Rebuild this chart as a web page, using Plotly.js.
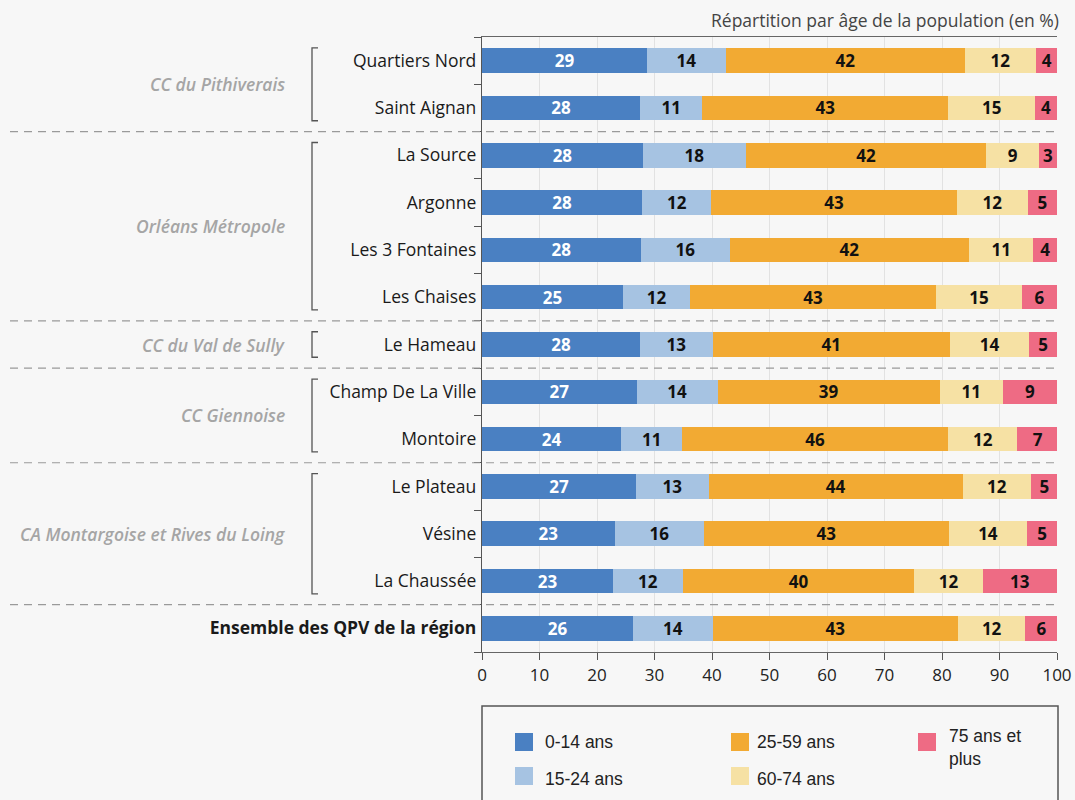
<!DOCTYPE html>
<html>
<head>
<meta charset="utf-8">
<script src="https://cdn.plot.ly/plotly-3.0.1.min.js"></script>
<style>
  html, body { margin: 0; padding: 0; background: #f7f7f7; }
  #chart { width: 1075px; height: 800px; }
</style>
</head>
<body>
<div id="chart"></div>
<script>
// ---- Data ----
var quartiers = ["Quartiers Nord", "Saint Aignan", "La Source", "Argonne", "Les 3 Fontaines",
  "Les Chaises", "Le Hameau", "Champ De La Ville", "Montoire", "Le Plateau", "Vésine",
  "La Chaussée", "Ensemble des QPV de la région"];
var ageGroups = ["0-14 ans", "15-24 ans", "25-59 ans", "60-74 ans", "75 ans et plus"];
var age0_14  = [28.7, 27.5, 28.0, 27.9, 27.6, 24.5, 27.5, 26.9, 24.2, 26.8, 23.1, 22.8, 26.3];
var age15_24 = [13.7, 10.8, 17.9, 12.0, 15.5, 11.7, 12.6, 14.1, 10.6, 12.6, 15.5, 12.1, 13.8];
var age25_59 = [41.6, 42.8, 41.8, 42.7, 41.6, 42.8, 41.3, 38.6, 46.3, 44.2, 42.6, 40.3, 42.7];
var age60_74 = [12.3, 15.1, 9.2, 12.3, 11.2, 14.9, 13.8, 11.0, 12.0, 11.9, 13.6, 11.9, 11.7];
var age75p   = [3.8, 3.8, 3.1, 5.1, 4.1, 6.1, 4.8, 9.4, 7.1, 4.6, 5.2, 12.9, 5.6];
var groupNames = ["CC du Pithiverais", "Orléans Métropole", "CC du Val de Sully", "CC Giennoise",
  "CA Montargoise et Rives du Loing"];
var groupFirst = [0, 2, 6, 7, 9];
var groupLast  = [1, 5, 6, 8, 11];
var xTicks = [0, 10, 20, 30, 40, 50, 60, 70, 80, 90, 100];
var chartTitle = "Répartition par âge de la population (en %)";

// ---- Styles ----
var colors = ["#4a80c2", "#a6c3e2", "#f2aa33", "#f6e1a4", "#ee6b84"];
var textColors = ["#ffffff", "#111111", "#111111", "#111111", "#111111"];
var series = [age0_14, age15_24, age25_59, age60_74, age75p];

var tickText = quartiers.map(function (q, i) {
  return i === quartiers.length - 1 ? "<b>" + q + "</b>" : q;
});

var traces = series.map(function (vals, k) {
  return {
    type: "bar",
    orientation: "h",
    name: ageGroups[k],
    y: quartiers,
    x: vals,
    text: vals.map(function (v) { return String(Math.round(v)); }),
    textposition: "inside",
    insidetextanchor: "middle",
    textangle: 0,
    constraintext: "none",
    textfont: { family: "Open Sans", size: 17, color: textColors[k], weight: 700 },
    marker: { color: colors[k], line: { width: 0 } },
    hoverinfo: "x+name",
    showlegend: false
  };
});

// pixel -> paper helpers (plot area 482..1057 x, 37..652 y)
function px(p) { return (p - 482) / 575; }
function py(p) { return (652 - p) / 615; }

var shapes = [];
var annotations = [];

// dashed group separators
[1.5, 5.5, 6.5, 8.5, 11.5].forEach(function (b) {
  shapes.push({
    type: "line", xref: "paper", yref: "y",
    x0: px(10), x1: 1, y0: b, y1: b,
    line: { color: "#9a9a9a", width: 1.2, dash: "8px,6px" }
  });
});

// brackets and group labels
groupNames.forEach(function (g, i) {
  var y0 = groupFirst[i] - 0.27, y1 = groupLast[i] + 0.27;
  shapes.push({
    type: "path", xref: "paper", yref: "y",
    path: "M" + px(318) + "," + y0 + " L" + px(312) + "," + y0 + " L" + px(312) + "," + y1 + " L" + px(318) + "," + y1,
    line: { color: "#555555", width: 1.3 }
  });
  annotations.push({
    xref: "paper", yref: "y", x: px(287), y: (groupFirst[i] + groupLast[i]) / 2,
    xanchor: "right", yanchor: "middle", showarrow: false,
    text: g,
    font: { family: "Open Sans", size: 17.5, color: "#a5a5a5", style: "italic", weight: 600 }
  });
});

// title annotation
annotations.push({
  xref: "paper", yref: "paper", x: px(1061), y: py(20),
  xanchor: "right", yanchor: "middle", showarrow: false,
  text: chartTitle,
  font: { family: "Open Sans", size: 17.5, color: "#444444" }
});

// manual legend box
shapes.push({
  type: "rect", xref: "paper", yref: "paper",
  x0: 0, x1: px(1058), y0: py(706), y1: py(815),
  line: { color: "#555555", width: 1.5 }, fillcolor: "rgba(0,0,0,0)"
});
var legPos = [
  { sx: 515, sy: 733, tx: 543, ty: 742 },
  { sx: 515, sy: 767, tx: 543, ty: 779 },
  { sx: 731, sy: 733, tx: 755, ty: 742 },
  { sx: 731, sy: 767, tx: 755, ty: 779 },
  { sx: 918, sy: 733, tx: 947, ty: 747 }
];
var legLabels = ageGroups.slice();
legLabels[4] = "75 ans et<br>plus";
legPos.forEach(function (p, k) {
  shapes.push({
    type: "rect", xref: "paper", yref: "paper",
    x0: px(p.sx), x1: px(p.sx + 18), y0: py(p.sy), y1: py(p.sy + 18),
    line: { width: 0 }, fillcolor: colors[k]
  });
  annotations.push({
    xref: "paper", yref: "paper", x: px(p.tx), y: py(p.ty),
    xanchor: "left", yanchor: "middle", align: "left", showarrow: false,
    text: legLabels[k],
    font: { family: "Liberation Sans", size: 17.5, color: "#222222" }
  });
});

var layout = {
  width: 1075, height: 800,
  margin: { l: 482, r: 18, t: 37, b: 148, autoexpand: false },
  paper_bgcolor: "#f7f7f7",
  plot_bgcolor: "#f7f7f7",
  barmode: "stack",
  bargap: 0.48,
  showlegend: false,
  font: { family: "Open Sans", color: "#1a1a1a" },
  xaxis: {
    range: [0, 100], tickvals: xTicks, ticktext: xTicks.map(String),
    showgrid: true, gridcolor: "#e2e2e2", gridwidth: 1,
    showline: true, linecolor: "#666666", linewidth: 1.2, mirror: true,
    ticks: "outside", ticklen: 7, tickcolor: "#555555",
    tickfont: { family: "Open Sans", size: 17, color: "#222222" },
    zeroline: false, fixedrange: true
  },
  yaxis: {
    type: "category", categoryorder: "array", categoryarray: quartiers,
    tickvals: quartiers, ticktext: tickText,
    range: [12.5, -0.5],
    showgrid: false,
    showline: true, linecolor: "#555555", linewidth: 1.2,
    ticks: "outside", tickson: "boundaries", ticklen: 7, tickcolor: "#555555",
    ticklabelstandoff: 1,
    tickfont: { family: "Open Sans", size: 17.5, color: "#1a1a1a" },
    fixedrange: true
  },
  shapes: shapes,
  annotations: annotations
};

Plotly.newPlot("chart", traces, layout, { displayModeBar: false, staticPlot: true });
</script>
</body>
</html>
